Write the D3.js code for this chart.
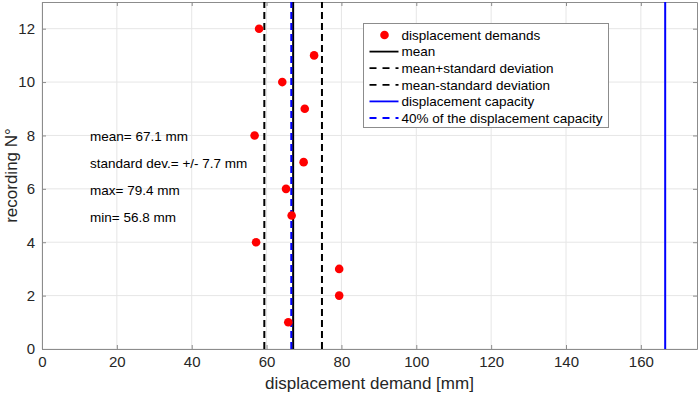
<!DOCTYPE html>
<html>
<head>
<meta charset="utf-8">
<script src="https://cdn.jsdelivr.net/npm/d3@7"></script>
<style>
  body { margin: 0; background: #fff; }
  svg { display: block; font-family: "Liberation Sans", Arial, sans-serif; }
  .grid line { stroke: #e6e6e6; stroke-width: 1; }
  .axis path, .axis line { stroke: #8c8c8c; }
  .axis text { fill: #262626; font-size: 15px; }
</style>
</head>
<body>
<div class="chart"></div>
<script>
// recording number and displacement demand [mm]
const recordings = [1, 2, 3, 4, 5, 6, 7, 8, 9, 10, 11, 12];
const demands = [65.8, 79.4, 79.4, 57.2, 66.7, 65.2, 69.9, 56.8, 70.2, 64.2, 72.7, 58.0];

const meanValue = 67.1;
const stdValue = 7.7;
const capacity = 166.5;
const capacityShare = 0.4;

const xTicks = [0, 20, 40, 60, 80, 100, 120, 140, 160];
const yTicks = [0, 2, 4, 6, 8, 10, 12];

const statsText = [
  "mean= 67.1 mm",
  "standard dev.= +/- 7.7 mm",
  "max= 79.4 mm",
  "min= 56.8 mm",
];

const legendLabels = [
  "displacement demands",
  "mean",
  "mean+standard deviation",
  "mean-standard deviation",
  "displacement capacity",
  "40% of the displacement capacity",
];

const width = 699;
const height = 394;
const margin = { top: 2, right: 2, bottom: 45, left: 42 };

const svg = d3
  .select(".chart")
  .append("svg")
  .attr("width", width)
  .attr("height", height);

const xScale = d3
  .scaleLinear()
  .domain([0, 175])
  .range([margin.left, width - margin.right]);

const yScale = d3
  .scaleLinear()
  .domain([0, 13])
  .range([height - margin.bottom, margin.top]);

// grid
const grid = svg.append("g").attr("class", "grid");
grid
  .selectAll(".gx")
  .data(xTicks)
  .enter()
  .append("line")
  .attr("x1", (d) => xScale(d))
  .attr("x2", (d) => xScale(d))
  .attr("y1", yScale(0))
  .attr("y2", yScale(13));
grid
  .selectAll(".gy")
  .data(yTicks)
  .enter()
  .append("line")
  .attr("y1", (d) => yScale(d))
  .attr("y2", (d) => yScale(d))
  .attr("x1", xScale(0))
  .attr("x2", xScale(175));

// axes (ticks inside, like matlab)
svg
  .append("g")
  .attr("class", "axis")
  .attr("transform", `translate(0, ${yScale(0)})`)
  .call(d3.axisBottom(xScale).tickValues(xTicks).tickSizeInner(-4).tickSizeOuter(0).tickPadding(7));

svg
  .append("g")
  .attr("class", "axis")
  .attr("transform", `translate(0, ${yScale(13)})`)
  .call(d3.axisTop(xScale).tickValues(xTicks).tickSizeInner(-4).tickSizeOuter(0).tickFormat(""));

svg
  .append("g")
  .attr("class", "axis")
  .attr("transform", `translate(${xScale(0)}, 0)`)
  .call(d3.axisLeft(yScale).tickValues(yTicks).tickSizeInner(-4).tickSizeOuter(0).tickPadding(7));

svg
  .append("g")
  .attr("class", "axis")
  .attr("transform", `translate(${xScale(175)}, 0)`)
  .call(d3.axisRight(yScale).tickValues(yTicks).tickSizeInner(-4).tickSizeOuter(0).tickFormat(""));

// vertical reference lines
const refLines = [
  { x: meanValue - stdValue, color: "#000", dash: "7,4", w: 2 },
  { x: meanValue + stdValue, color: "#000", dash: "7,4", w: 2 },
  { x: meanValue, color: "#000", dash: null, w: 2 },
  { x: capacity * capacityShare, color: "#0000ff", dash: "7,4", w: 2 },
  { x: capacity, color: "#0000ff", dash: null, w: 2 },
];

svg
  .selectAll(".ref")
  .data(refLines)
  .enter()
  .append("line")
  .attr("class", "ref")
  .attr("x1", (d) => xScale(d.x))
  .attr("x2", (d) => xScale(d.x))
  .attr("y1", yScale(0))
  .attr("y2", yScale(13))
  .attr("stroke", (d) => d.color)
  .attr("stroke-width", (d) => d.w)
  .attr("stroke-dasharray", (d) => d.dash);

// points
svg
  .selectAll(".dot")
  .data(recordings)
  .enter()
  .append("circle")
  .attr("class", "dot")
  .attr("cx", (d, i) => xScale(demands[i]))
  .attr("cy", (d) => yScale(d))
  .attr("r", 4.3)
  .attr("fill", "#ff0000");

// stats text
svg
  .selectAll(".stat")
  .data(statsText)
  .enter()
  .append("text")
  .attr("x", 90)
  .attr("y", (d, i) => 136 + i * 27)
  .attr("dy", "0.35em")
  .attr("font-size", 13.5)
  .attr("fill", "#000")
  .text((d) => d);

// axis labels
svg
  .append("text")
  .attr("x", (xScale(0) + xScale(175)) / 2)
  .attr("y", 383)
  .attr("dy", "0.35em")
  .attr("text-anchor", "middle")
  .attr("font-size", 17)
  .attr("fill", "#262626")
  .text("displacement demand [mm]");

svg
  .append("text")
  .attr("transform", `translate(11, ${(yScale(0) + yScale(13)) / 2}) rotate(-90)`)
  .attr("dy", "0.35em")
  .attr("text-anchor", "middle")
  .attr("font-size", 17)
  .attr("fill", "#262626")
  .text("recording N°");

// legend
const legend = svg.append("g").attr("transform", "translate(363.5, 23.5)");
legend
  .append("rect")
  .attr("width", 245)
  .attr("height", 104)
  .attr("fill", "#fff")
  .attr("stroke", "#8c8c8c");

const legendStyles = [
  { type: "dot", color: "#ff0000" },
  { type: "line", color: "#000", dash: null },
  { type: "line", color: "#000", dash: "7,6" },
  { type: "line", color: "#000", dash: "7,6" },
  { type: "line", color: "#0000ff", dash: null },
  { type: "line", color: "#0000ff", dash: "7,6" },
];

const rows = legend
  .selectAll(".row")
  .data(legendLabels)
  .enter()
  .append("g")
  .attr("transform", (d, i) => `translate(0, ${11.5 + i * 16.6})`);

rows.each(function (d, i) {
  const g = d3.select(this);
  const st = legendStyles[i];
  if (st.type === "dot") {
    g.append("circle").attr("cx", 21).attr("cy", 0).attr("r", 4.3).attr("fill", st.color);
  } else {
    g.append("line")
      .attr("x1", 6)
      .attr("x2", 35)
      .attr("stroke", st.color)
      .attr("stroke-width", 1.8)
      .attr("stroke-dasharray", st.dash);
  }
});

rows
  .append("text")
  .attr("x", 38)
  .attr("dy", "0.35em")
  .attr("font-size", 13.5)
  .attr("fill", "#000")
  .text((d) => d);
</script>
</body>
</html>
